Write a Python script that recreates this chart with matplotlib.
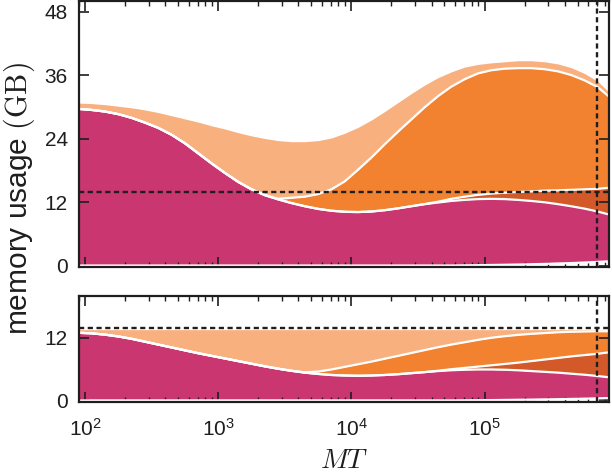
import numpy as np
import matplotlib
matplotlib.use('Agg')
import matplotlib.pyplot as plt
from matplotlib.ticker import FixedLocator, LogLocator, NullFormatter

plt.rcParams['font.family'] = ['Liberation Sans', 'DejaVu Sans']
plt.rcParams['mathtext.fontset'] = 'cm'

MAGENTA = '#C93670'
DARK_ORANGE = '#D35A28'
MID_ORANGE = '#F28230'
LIGHT_ORANGE = '#F9B07F'
INK = '#1E1E1E'

# MT sample positions (x axis, log scale)
mt = [89, 112, 141, 178, 224, 282, 355, 447, 562, 708,
      891, 1122, 1413, 1778, 2239, 2818, 3548, 4467, 5623, 7079,
      8913, 11220, 14125, 17783, 22387, 28184, 35481, 44668, 56234, 70795,
      89125, 112202, 141254, 177828, 223872, 281838, 354813, 446684, 562341,
      707946, 870964]

# top panel: cumulative boundaries of the stacked layers (GB)
top_base = [0, 0, 0, 0, 0, 0, 0, 0, 0, 0,
            0, 0, 0, 0, 0, 0, 0, 0, 0, 0,
            0, 0, 0, 0, 0, 0, 0, 0, 0, 0.03,
            0.06, 0.1, 0.14, 0.18, 0.24, 0.3, 0.38, 0.46, 0.56, 0.68, 0.8]
top_a = [29.6, 29.4, 29.1, 28.6, 27.9, 27.0, 26.0, 24.7, 23.1, 21.2,
         19.3, 17.5, 15.8, 14.4, 13.3, 12.5, 11.8, 11.2, 10.7, 10.35,
         10.15, 10.1, 10.2, 10.45, 10.8, 11.2, 11.6, 11.9, 12.2, 12.4,
         12.55, 12.6, 12.55, 12.4, 12.2, 11.95, 11.6, 11.2, 10.75, 10.2, 9.6]
top_b = [29.6, 29.4, 29.1, 28.6, 27.9, 27.0, 26.0, 24.7, 23.1, 21.2,
         19.3, 17.5, 15.8, 14.4, 13.3, 12.5, 11.8, 11.2, 10.7, 10.35,
         10.15, 10.1, 10.2, 10.45, 10.8, 11.2, 11.6, 12.05, 12.6, 13.0,
         13.35, 13.6, 13.75, 13.9, 14.0, 14.15, 14.2, 14.3, 14.4, 14.5, 14.7]
top_c = [29.6, 29.4, 29.1, 28.6, 27.9, 27.0, 26.0, 24.7, 23.1, 21.2,
         19.3, 17.5, 15.8, 14.4, 13.3, 12.6, 12.8, 13.0, 13.5, 14.4,
         15.9, 18.1, 20.4, 22.9, 25.3, 27.6, 29.9, 32.0, 33.8, 35.2,
         36.3, 36.9, 37.2, 37.3, 37.3, 37.1, 36.7, 36.0, 35.0, 33.7, 31.8]
top_d = [30.7, 30.6, 30.4, 30.1, 29.8, 29.4, 28.9, 28.3, 27.7, 27.1,
         26.4, 25.8, 25.1, 24.5, 24.0, 23.6, 23.4, 23.4, 23.6, 24.1,
         25.0, 26.1, 27.5, 29.1, 30.8, 32.5, 34.1, 35.5, 36.6, 37.5,
         38.0, 38.3, 38.5, 38.7, 38.7, 38.5, 38.1, 37.4, 36.3, 34.8, 32.6]

# bottom panel: cumulative boundaries of the stacked layers (GB)
bot_base = [0, 0, 0, 0, 0, 0, 0, 0, 0, 0,
            0, 0, 0, 0, 0, 0, 0, 0, 0, 0,
            0, 0, 0, 0, 0, 0, 0, 0, 0, 0.02,
            0.04, 0.06, 0.09, 0.12, 0.15, 0.19, 0.23, 0.28, 0.33, 0.4, 0.45]
bot_a = [12.9, 12.8, 12.55, 12.2, 11.75, 11.2, 10.65, 10.1, 9.55, 9.0,
         8.5, 8.0, 7.5, 7.0, 6.5, 6.05, 5.65, 5.3, 5.05, 4.85,
         4.75, 4.7, 4.75, 4.85, 5.0, 5.2, 5.4, 5.6, 5.75, 5.85,
         5.9, 5.9, 5.85, 5.75, 5.6, 5.45, 5.3, 5.1, 4.9, 4.65, 4.4]
bot_b = [12.9, 12.8, 12.55, 12.2, 11.75, 11.2, 10.65, 10.1, 9.55, 9.0,
         8.5, 8.0, 7.5, 7.0, 6.5, 6.05, 5.65, 5.3, 5.05, 4.85,
         4.75, 4.7, 4.75, 4.85, 5.0, 5.2, 5.4, 5.65, 5.95, 6.2,
         6.45, 6.7, 6.95, 7.2, 7.5, 7.8, 8.1, 8.4, 8.65, 8.9, 9.2]
bot_c = [12.9, 12.8, 12.55, 12.2, 11.75, 11.2, 10.65, 10.1, 9.55, 9.0,
         8.5, 8.0, 7.5, 7.0, 6.5, 6.05, 5.65, 5.35, 5.5, 5.9,
         6.4, 6.9, 7.4, 7.95, 8.5, 9.05, 9.6, 10.15, 10.65, 11.1,
         11.55, 11.95, 12.25, 12.5, 12.7, 12.85, 13.0, 13.1, 13.15, 13.2, 13.2]
bot_d = [13.5] * 41

limit_gb = 13.8
limit_mt = 7.0e5
xlim = (90, 8.65e5)


def draw_panel(ax, base, a, b, c, d):
    layers = [(base, a, MAGENTA), (a, b, DARK_ORANGE),
              (b, c, MID_ORANGE), (c, d, LIGHT_ORANGE)]
    for lo, hi, col in layers:
        ax.fill_between(mt, lo, hi, color=col, lw=0, zorder=1)
    for edge in (base, a, b, c):
        ax.plot(mt, edge, color='white', lw=1.6, zorder=2,
                solid_capstyle='butt')
    ax.axhline(limit_gb, color=INK, lw=1.7, ls=(0, (2.2, 1.5)), zorder=3)
    ax.axvline(limit_mt, color=INK, lw=1.7, ls=(0, (2.2, 1.5)), zorder=3)
    ax.set_xscale('log')
    ax.set_xlim(*xlim)
    ax.xaxis.set_major_locator(LogLocator(base=10))
    ax.xaxis.set_minor_locator(LogLocator(base=10, subs=np.arange(2, 10)))
    ax.tick_params(which='both', direction='in', top=True, right=True,
                   colors=INK, labelsize=15, pad=8)
    ax.tick_params(axis='x', pad=11.5)
    ax.tick_params(which='major', length=7, width=1.2)
    ax.tick_params(which='minor', length=3.5, width=1.0)
    for spine in ax.spines.values():
        spine.set_linewidth(1.6)
        spine.set_color(INK)
        spine.set_zorder(5)


fig = plt.figure(figsize=(6.12, 4.76), dpi=100)
ax_top = fig.add_axes([0.129, 0.440, 0.8667, 0.558])
ax_bot = fig.add_axes([0.129, 0.1555, 0.8667, 0.2235])

draw_panel(ax_top, top_base, top_a, top_b, top_c, top_d)
ax_top.set_ylim(-0.2, 50)
ax_top.yaxis.set_major_locator(FixedLocator([0, 12, 24, 36, 48]))
ax_top.xaxis.set_major_formatter(NullFormatter())

draw_panel(ax_bot, bot_base, bot_a, bot_b, bot_c, bot_d)
ax_bot.set_ylim(-0.3, 20)
ax_bot.yaxis.set_major_locator(FixedLocator([0, 12]))

fig.text(19 / 612, 1 - 199 / 476, r'memory usage $\mathrm{(GB)}$',
         rotation=90, ha='center', va='center', fontsize=21.5, color=INK)
fig.text(344 / 612, 0.004, r'$MT$', ha='center', va='bottom', fontsize=20,
         color=INK)

fig.savefig('out.png', dpi=100)
